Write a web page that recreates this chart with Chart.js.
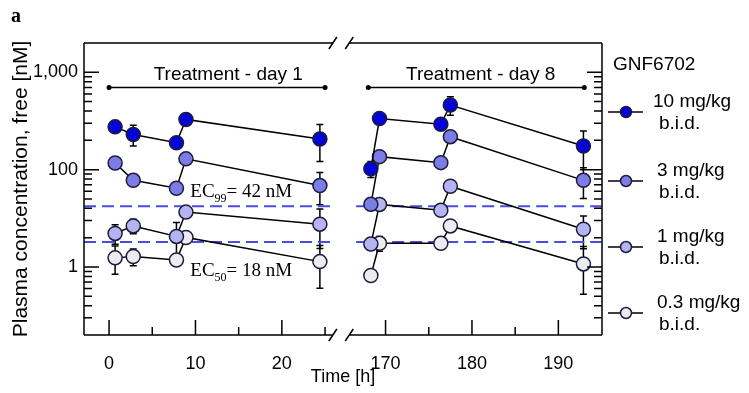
<!DOCTYPE html>
<html>
<head>
<meta charset="utf-8">
<script src="https://cdn.jsdelivr.net/npm/chart.js@4.4.1/dist/chart.umd.min.js"></script>
<style>
  html, body { margin: 0; padding: 0; background: #fff; }
  #wrap { position: relative; width: 749px; height: 393px; }
</style>
</head>
<body>
<div id="wrap"><canvas id="pkChart" width="749" height="393"></canvas></div>
<script>
// Sampling times [h]
const day1Times = [0.7, 2.8, 7.8, 8.9, 24.4];
const day8Times = [168.3, 169.3, 176.4, 177.5, 192.9];

// Free plasma concentration [nM] per dose group (mean)
const dose10Day1 = [275, 230, 189, 328, 206];
const dose10Day8 = [102, 335, 293, 461, 175];
const dose3Day1 = [117, 77.6, 64.4, 129, 68.6];
const dose3Day8 = [44, 136, 118, 218, 77.6];
const dose1Day1 = [22.1, 26.4, 20.6, 36.6, 27.5];
const dose1Day8 = [17.2, 43.9, 38.2, 67.5, 24.4];
const dose03Day1 = [12.4, 12.8, 11.8, 20.1, 11.35];
const dose03Day8 = [8.17, 17.5, 17.5, 26.4, 10.75];

// Error bars (SD) for the same points
const dose10Day1Err = [0, 55, 0, 0, 85];
const dose10Day8Err = [19, 0, 20, 100, 75];
const dose3Day1Err = [15, 0, 8, 0, 25];
const dose3Day8Err = [5, 15, 10, 0, 27];
const dose1Day1Err = [5, 4.5, 8, 0, 12];
const dose1Day8Err = [0, 3, 0, 0, 9];
const dose03Day1Err = [4, 2.5, 0, 0, 5.3];
const dose03Day8Err = [0, 3, 0, 0, 5.5];

const doseLabels = ['10 mg/kg', '3 mg/kg', '1 mg/kg', '0.3 mg/kg'];
const ec99 = 42;
const ec50 = 18;
const ecSpanDay1 = [-2.9, 25.6];
const ecSpanDay8 = [166.6, 195];
const treatmentDay1 = [0, 25];
const treatmentDay8 = [168, 193];
const treatmentLevel = 700;

const yTicks = [10, 100, 1000];
const yTickLabels = ['1', '100', '1,000'];
const xTicks = [0, 10, 20, 170, 180, 190];
const xTickLabels = ['0', '10', '20', '170', '180', '190'];
const xMinorTicks = [5, 15, 25, 175, 185];

// broken time axis: day 8 part is shifted left
const BREAK_SHIFT = 138;
const breakLeft = 25.9, breakRight = 165.8;
function axisX(t) { return t > 100 ? t - BREAK_SHIFT : t; }

const sans = '"Liberation Sans", Arial, sans-serif';
const serif = '"Liberation Serif", "Times New Roman", serif';
const doseColors = ['#0404d6', '#7c7ce6', '#b4b4f0', '#ececf0'];
const markerEdge = '#1c1c3c';
const ecColor = '#4b4bdc';

function doseSet(label, times, values, errors, color) {
    return {
        label: label,
        times: times,
        errors: errors,
        data: times.map((t, i) => ({ x: axisX(t), y: values[i] })),
        borderColor: '#000',
        borderWidth: 1.5,
        pointRadius: 7,
        pointHoverRadius: 7,
        pointBackgroundColor: color,
        pointBorderColor: markerEdge,
        pointBorderWidth: 1.5,
        tension: 0,
        fill: false
    };
}

function plainLine(span, level, opts) {
    return Object.assign({
        data: span.map(t => ({ x: axisX(t), y: level })),
        fill: false,
        tension: 0
    }, opts);
}

const ecStyle = { borderColor: ecColor, borderWidth: 2, borderDash: [12, 6], pointRadius: 0 };
const barStyle = { borderColor: '#000', borderWidth: 1.5, pointRadius: 2.5, pointBackgroundColor: '#000', pointBorderWidth: 0 };

const datasets = [
    doseSet(doseLabels[0], day1Times, dose10Day1, dose10Day1Err, doseColors[0]),
    doseSet(doseLabels[0], day8Times, dose10Day8, dose10Day8Err, doseColors[0]),
    doseSet(doseLabels[1], day1Times, dose3Day1, dose3Day1Err, doseColors[1]),
    doseSet(doseLabels[1], day8Times, dose3Day8, dose3Day8Err, doseColors[1]),
    doseSet(doseLabels[2], day1Times, dose1Day1, dose1Day1Err, doseColors[2]),
    doseSet(doseLabels[2], day8Times, dose1Day8, dose1Day8Err, doseColors[2]),
    doseSet(doseLabels[3], day1Times, dose03Day1, dose03Day1Err, doseColors[3]),
    doseSet(doseLabels[3], day8Times, dose03Day8, dose03Day8Err, doseColors[3]),
    plainLine(ecSpanDay1, ec99, ecStyle),
    plainLine(ecSpanDay8, ec99, ecStyle),
    plainLine(ecSpanDay1, ec50, ecStyle),
    plainLine(ecSpanDay8, ec50, ecStyle),
    plainLine(treatmentDay1, treatmentLevel, barStyle),
    plainLine(treatmentDay8, treatmentLevel, barStyle)
];

// error bars, behind the markers
const errorBars = {
    id: 'errorBars',
    beforeDatasetsDraw(chart) {
        const ctx = chart.ctx, xs = chart.scales.x, ys = chart.scales.y;
        ctx.save();
        ctx.strokeStyle = '#000';
        ctx.lineWidth = 1.5;
        chart.data.datasets.forEach(ds => {
            if (!ds.errors) return;
            ds.data.forEach((p, i) => {
                const e = ds.errors[i];
                if (!e) return;
                const x = xs.getPixelForValue(p.x);
                const y1 = ys.getPixelForValue(p.y + e);
                const y2 = ys.getPixelForValue(Math.max(p.y - e, 2.05));
                ctx.beginPath();
                ctx.moveTo(x, y1); ctx.lineTo(x, y2);
                ctx.moveTo(x - 3.5, y1); ctx.lineTo(x + 3.5, y1);
                ctx.moveTo(x - 3.5, y2); ctx.lineTo(x + 3.5, y2);
                ctx.stroke();
            });
        });
        ctx.restore();
    }
};

// frame with axis break, inward ticks, labels and legend
const decorations = {
    id: 'decorations',
    afterDraw(chart) {
        const ctx = chart.ctx, xs = chart.scales.x, ys = chart.scales.y;
        const a = chart.chartArea;
        const bl = xs.getPixelForValue(axisX(breakLeft));
        const br = xs.getPixelForValue(axisX(breakRight));
        ctx.save();
        ctx.strokeStyle = '#000';
        ctx.lineWidth = 1.5;
        ctx.beginPath();
        ctx.moveTo(a.left, a.top); ctx.lineTo(a.left, a.bottom);
        ctx.moveTo(a.right, a.top); ctx.lineTo(a.right, a.bottom);
        [a.top, a.bottom].forEach(y => {
            ctx.moveTo(a.left, y); ctx.lineTo(bl, y);
            ctx.moveTo(br, y); ctx.lineTo(a.right, y);
            ctx.moveTo(bl - 4, y + 6); ctx.lineTo(bl + 4, y - 6);
            ctx.moveTo(br - 4, y + 6); ctx.lineTo(br + 4, y - 6);
        });
        // x ticks
        xTicks.forEach(t => {
            const x = xs.getPixelForValue(axisX(t));
            ctx.moveTo(x, a.bottom); ctx.lineTo(x, a.bottom - 15);
        });
        xMinorTicks.forEach(t => {
            const x = xs.getPixelForValue(axisX(t));
            ctx.moveTo(x, a.bottom); ctx.lineTo(x, a.bottom - 8);
        });
        // y ticks, both sides
        [1, 10, 100, 1000].forEach(dec => {
            for (let m = 1; m <= 9; m++) {
                const v = m * dec;
                if (v <= 2 || v >= 2000) continue;
                const y = ys.getPixelForValue(v);
                const len = m === 1 ? 15 : 8;
                ctx.moveTo(a.left, y); ctx.lineTo(a.left + len, y);
                ctx.moveTo(a.right, y); ctx.lineTo(a.right - len, y);
            }
        });
        ctx.stroke();

        // treatment labels
        ctx.fillStyle = '#000';
        ctx.font = '19px ' + sans;
        ctx.textAlign = 'center';
        ctx.textBaseline = 'alphabetic';
        const ty = ys.getPixelForValue(treatmentLevel) - 7;
        ctx.fillText('Treatment - day 1', xs.getPixelForValue(axisX(13.8)), ty);
        ctx.fillText('Treatment - day 8', xs.getPixelForValue(axisX(181)), ty);

        // EC labels
        function ecLabel(sub, rest, x, y) {
            ctx.textAlign = 'left';
            ctx.font = '19px ' + serif;
            ctx.fillText('EC', x, y);
            let w = ctx.measureText('EC').width;
            ctx.font = '12px ' + serif;
            ctx.fillText(sub, x + w, y + 5);
            w += ctx.measureText(sub).width;
            ctx.font = '19px ' + serif;
            ctx.fillText(rest, x + w, y);
        }
        const ex = xs.getPixelForValue(axisX(9.4));
        ecLabel('99', '= 42 nM', ex, ys.getPixelForValue(ec99) - 9.5);
        ecLabel('50', '= 18 nM', ex, ys.getPixelForValue(ec50) + 34);

        // legend
        ctx.font = '19px ' + sans;
        ctx.textAlign = 'left';
        ctx.textBaseline = 'middle';
        ctx.fillText('GNF6702', 613, 65);
        const legendY = [112, 181, 247, 313];
        doseLabels.forEach((lab, i) => {
            const y = legendY[i];
            ctx.beginPath();
            ctx.moveTo(608, y); ctx.lineTo(643, y);
            ctx.stroke();
            ctx.beginPath();
            ctx.arc(626, y, 5.5, 0, Math.PI * 2);
            ctx.fillStyle = doseColors[i];
            ctx.fill();
            ctx.strokeStyle = markerEdge;
            ctx.stroke();
            ctx.strokeStyle = '#000';
            ctx.fillStyle = '#000';
            ctx.fillText(lab, i === 0 ? 653 : 657, y - 10);
            ctx.fillText('b.i.d.', 659, y + 12);
        });

        // panel letter
        ctx.font = 'bold 20px ' + serif;
        ctx.textBaseline = 'alphabetic';
        ctx.fillText('a', 11, 22);
        ctx.restore();
    }
};

new Chart(document.getElementById('pkChart'), {
    type: 'line',
    data: { datasets: datasets },
    options: {
        responsive: false,
        animation: false,
        devicePixelRatio: 1,
        events: [],
        layout: { padding: { top: 43, right: 147, left: 0, bottom: 0 } },
        plugins: { legend: { display: false }, tooltip: { enabled: false } },
        scales: {
            x: {
                type: 'linear',
                min: -2.9,
                max: 57.05,
                afterBuildTicks: s => { s.ticks = xTicks.map(t => ({ value: axisX(t) })); },
                afterFit: s => { s.height = 58; },
                grid: { display: false, drawTicks: false },
                border: { display: false },
                ticks: {
                    autoSkip: false, maxRotation: 0, padding: 18,
                    color: '#000', font: { family: sans, size: 18 },
                    callback: (v, i) => xTickLabels[i]
                },
                title: {
                    display: true, text: 'Time [h]', color: '#000',
                    font: { family: sans, size: 18 }, padding: { bottom: 5, top: 0 }
                }
            },
            y: {
                type: 'logarithmic',
                min: 2,
                max: 2000,
                afterBuildTicks: s => { s.ticks = yTicks.map(v => ({ value: v })); },
                afterFit: s => { s.width = 84; },
                grid: { display: false, drawTicks: false },
                border: { display: false },
                ticks: {
                    autoSkip: false, padding: 6,
                    color: '#000', font: { family: sans, size: 18 },
                    callback: (v, i) => yTickLabels[i]
                },
                title: {
                    display: true, text: 'Plasma concentration, free [nM]', color: '#000',
                    font: { family: sans, size: 21 }, padding: { top: 9, bottom: 0 }
                }
            }
        }
    },
    plugins: [errorBars, decorations]
});
</script>
</body>
</html>
